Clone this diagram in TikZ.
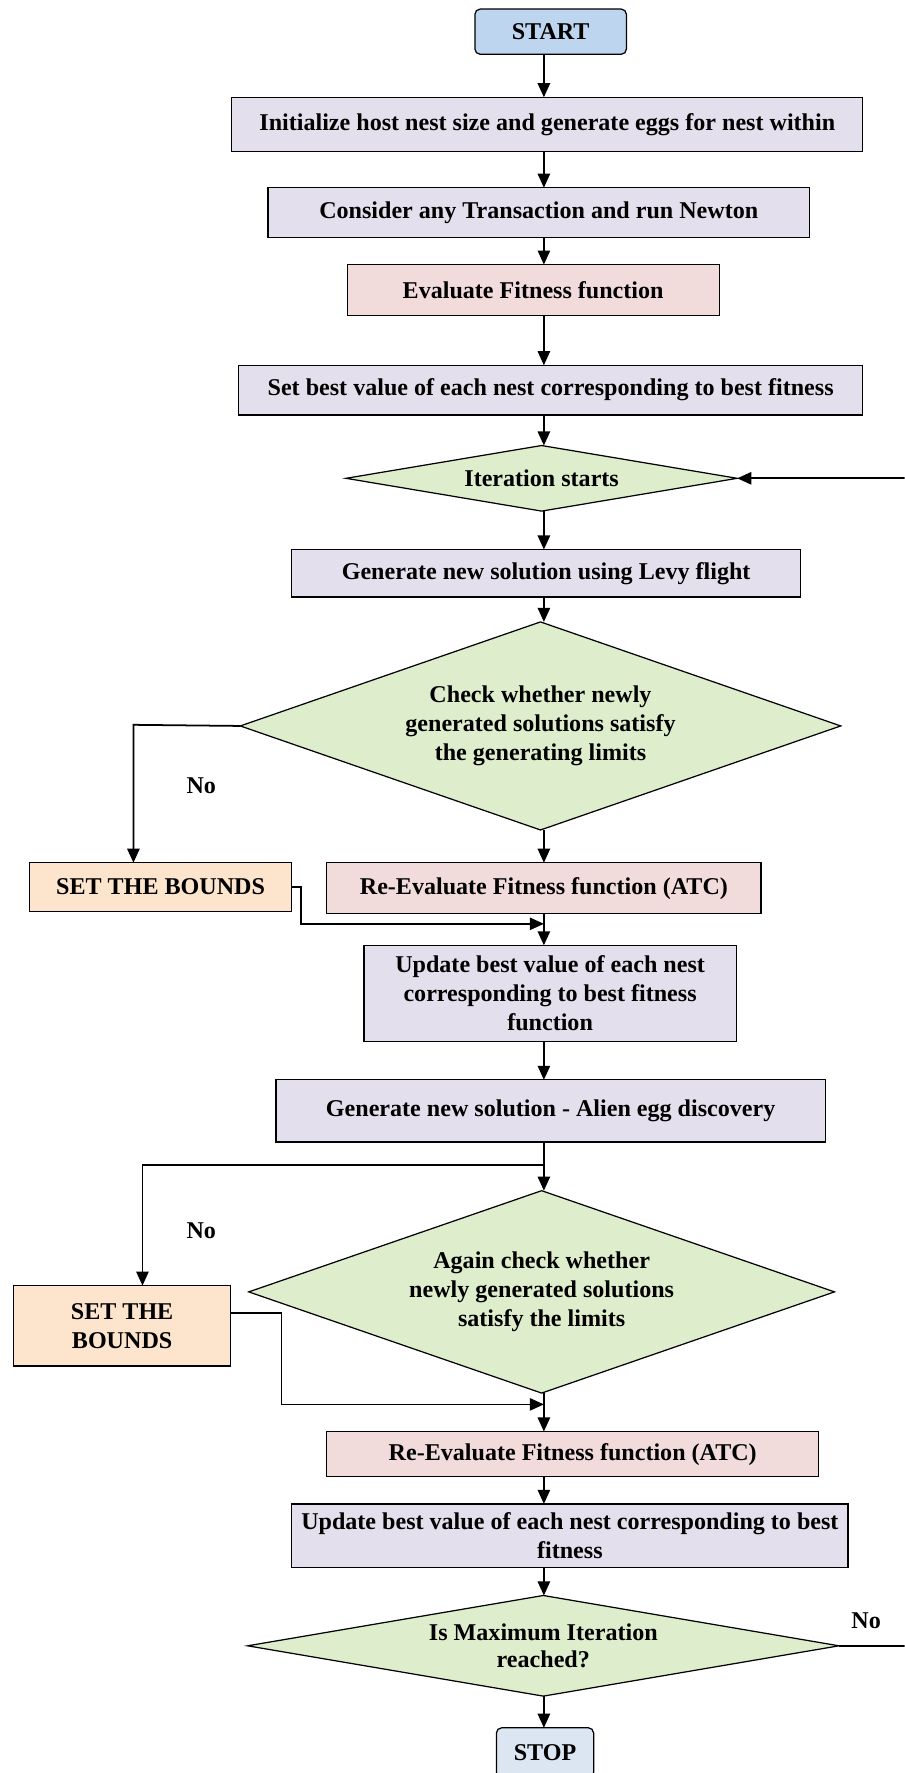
\documentclass[tikz,border=0pt]{standalone}
\usepackage{fontspec}
\setmainfont{Liberation Serif}
\usepackage{tikz}
\usetikzlibrary{arrows.meta}
\usetikzlibrary{shapes.geometric}
\definecolor{mlav}{RGB}{228,223,236}
\definecolor{mpink}{RGB}{242,220,219}
\definecolor{mgreen}{RGB}{222,237,203}
\definecolor{morange}{RGB}{252,228,205}
\definecolor{mstart}{RGB}{189,213,238}
\definecolor{mstop}{RGB}{220,230,242}
\newcommand{\pxu}{0.02262cm}

\tikzset{
  flowbox/.style={draw, line width=0.7pt, inner sep=0pt, outer sep=0pt, align=center,
    font=\fontsize{13.7}{16.6}\selectfont\bfseries},
  sized/.style 2 args={minimum width=#1*\pxu, minimum height=#2*\pxu},
  procbox/.style={flowbox, fill=mlav},
  evalbox/.style={flowbox, fill=mpink},
  boundbox/.style={flowbox, fill=morange},
  termbox/.style={flowbox, rounded corners=3pt},
  decision/.style={flowbox, diamond, aspect=3, fill=mgreen},
  lbl/.style={font=\fontsize{13.7}{16}\selectfont\bfseries},
  flow/.style={line width=1pt, -{Triangle[length=8pt,width=7pt]}}
}

\begin{document}
\begin{tikzpicture}[x=\pxu, y=-\pxu]
      \useasboundingbox (0,0) rectangle (800,1568);
      \clip (0,0) rectangle (800,1568);

      \node (start) at (487,28) [termbox, fill=mstart, sized={134}{40}] {START};
      \node (init) at (484,110) [procbox, sized={558}{48}]
        {Initialize host nest size and generate eggs for nest within};
      \node (consider) at (476.5,188) [procbox, sized={479}{44}]
        {Consider any Transaction and run Newton};
      \node (evalf) at (471.5,256.5) [evalbox, sized={329}{45}] {Evaluate Fitness function};
      \node (setbest) at (487,345) [procbox, sized={552}{44}]
        {Set best value of each nest corresponding to best fitness};
      \node (iter) at (479,423) [decision, aspect=6, sized={346}{58}] {Iteration starts};
      \node (levy) at (483,507) [procbox, sized={450}{42}]
        {Generate new solution using Levy flight};
      \node (check) at (478,642) [decision, sized={531}{184}]
        {Check whether newly\\generated solutions satisfy\\the generating limits};
      \node (setbA) at (142,784.5) [boundbox, sized={232}{43}] {SET THE BOUNDS};
      \node (reevalA) at (481,785.5) [evalbox, sized={384}{45}]
        {Re-Evaluate Fitness function (ATC)};
      \node (updA) at (486.5,878.5) [procbox, sized={329}{85}]
        {Update best value of each nest\\corresponding to best fitness\\function};
      \node (alien) at (487,982.5) [procbox, sized={486}{55}]
        {Generate new solution - Alien egg discovery};
      \node (again) at (479,1142.5) [decision, sized={518}{179}]
        {Again check whether\\newly generated solutions\\satisfy the limits};
      \node (setbB) at (108,1172.5) [boundbox, sized={192}{71}] {SET THE\\BOUNDS};
      \node (reevalB) at (506.5,1286) [evalbox, sized={435}{40}]
        {Re-Evaluate Fitness function (ATC)};
      \node (updB) at (504,1358) [procbox, sized={492}{56}]
        {Update best value of each nest corresponding to best\\fitness};
      \node (maxit) at (480.5,1455.5) [decision, aspect=5.6, sized={523}{89},
        font=\fontsize{13.7}{15}\selectfont\bfseries]
        {Is Maximum Iteration\\reached?};
      \node (stop) at (482,1550) [termbox, fill=mstop, sized={86}{44}] {STOP};

      \node (noA) at (178,695) [lbl] {No};
      \node (noB) at (178,1088) [lbl] {No};
      \node (noC) at (766,1433) [lbl] {No};

      \coordinate (colx) at (481,0);
      \coordinate (loopx) at (830,0);
      \coordinate (dropA) at (118,641);
      \coordinate (joinA) at (481,817);
      \coordinate (forkB) at (481,1030);
      \coordinate (dropB) at (126,1030);
      \coordinate (elbowB) at (249,1161);
      \coordinate (joinB) at (481,1242);

      \draw [flow] (start.south -| colx) -- (init.north -| colx);
      \draw [flow] (init.south -| colx) -- (consider.north -| colx);
      \draw [flow] (consider.south -| colx) -- (evalf.north -| colx);
      \draw [flow] (evalf.south -| colx) -- (setbest.north -| colx);
      \draw [flow] (setbest.south -| colx) -- (iter.north -| colx);
      \draw [flow] (iter.south -| colx) -- (levy.north -| colx);
      \draw [flow] (levy.south -| colx) -- (check.north -| colx);
      \draw [flow] (check.south -| colx) -- (reevalA.north -| colx);
      \draw [flow] (reevalA.south -| colx) -- (updA.north -| colx);
      \draw [flow] (updA.south -| colx) -- (alien.north -| colx);

      \draw [flow] (check.west) -- (dropA) -- (dropA |- setbA.north);
      \draw [flow] (setbA.east) -- ++(8,0) |- (joinA);

      \draw [line width=1pt] (alien.south -| forkB) -- (forkB);
      \draw [flow] (forkB) -- (forkB |- again.north);
      \draw [flow] (forkB) -- (dropB) -- (dropB |- setbB.north);
      \draw [flow] (setbB.east |- elbowB) -- (elbowB) |- (joinB);

      \draw [flow] (again.south -| colx) -- (reevalB.north -| colx);
      \draw [flow] (reevalB.south -| colx) -- (updB.north -| colx);
      \draw [flow] (updB.south -| colx) -- (maxit.north -| colx);
      \draw [flow] (maxit.south -| colx) -- (stop.north -| colx);

      \draw [flow] (maxit.east) -- (maxit.east -| loopx) |- (iter.east);
    \end{tikzpicture}
\end{document}
